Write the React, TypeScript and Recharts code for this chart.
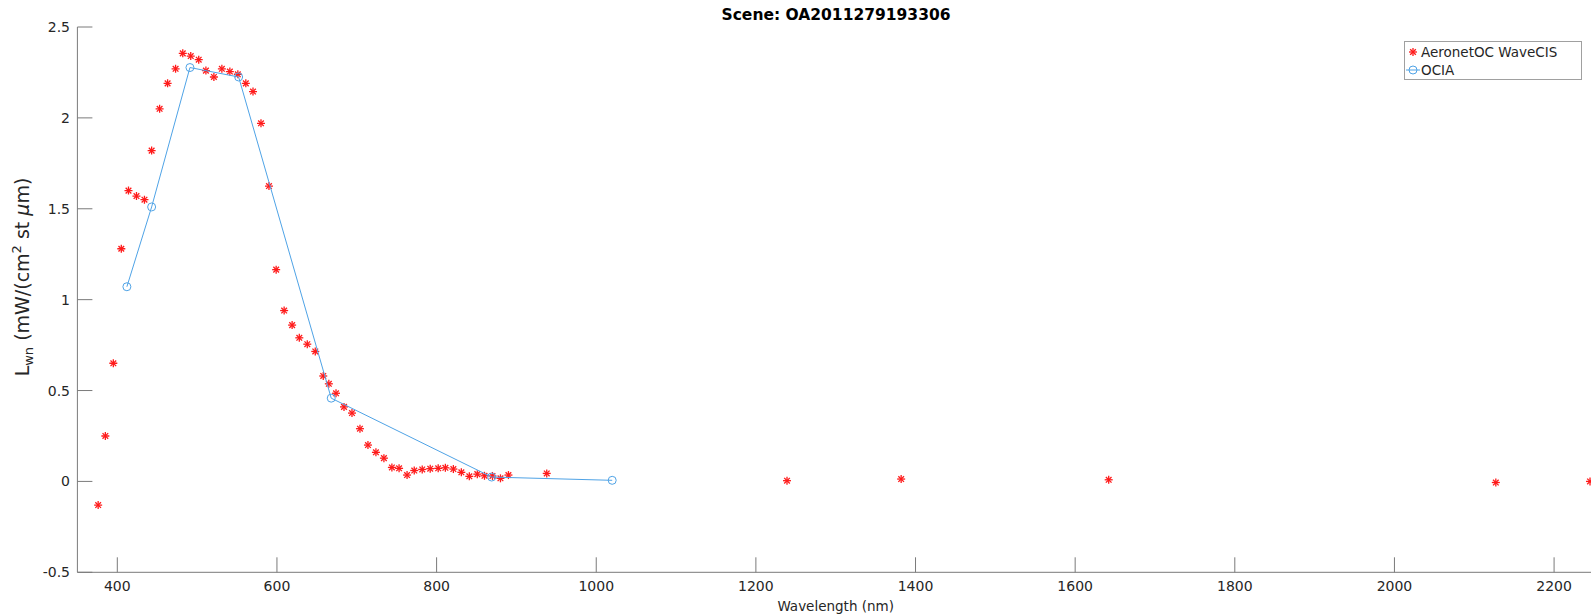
import { Scatter, ScatterChart, XAxis, YAxis } from 'recharts';

// AeronetOC WaveCIS, wavelength (nm) / Lwn
const aeronetWl = [
  376, 385, 395, 405, 414, 424, 434, 443, 453, 463, 473, 482, 492, 502, 511, 521, 531, 541, 551, 561,
  570, 580, 590, 599, 609, 619, 628, 638, 648, 658, 665, 674, 684, 694, 704, 714, 724, 734, 744, 753,
  763, 772, 782, 792, 802, 811, 821, 831, 841, 851, 860, 870, 880, 890, 938, 1239, 1382, 1642, 2127, 2245,
];
const aeronetLwn = [
  -0.13, 0.25, 0.65, 1.28, 1.6, 1.57, 1.55, 1.82, 2.05, 2.19, 2.27, 2.355, 2.34, 2.32, 2.26, 2.225, 2.27, 2.255, 2.24, 2.19,
  2.145, 1.97, 1.625, 1.165, 0.94, 0.86, 0.79, 0.755, 0.715, 0.58, 0.537, 0.485, 0.41, 0.376, 0.29, 0.2, 0.16, 0.128, 0.077, 0.072,
  0.035, 0.06, 0.066, 0.07, 0.072, 0.075, 0.068, 0.05, 0.028, 0.04, 0.031, 0.03, 0.017, 0.035, 0.044, 0.004, 0.013, 0.009, -0.006, 0.0,
];

// OCIA
const ociaWl = [412, 443, 491, 552, 668, 869, 1020];
const ociaLwn = [1.071, 1.51, 2.277, 2.225, 0.458, 0.024, 0.006];

const xTicks = [400, 600, 800, 1000, 1200, 1400, 1600, 1800, 2000, 2200];
const yTicks = [-0.5, 0, 0.5, 1, 1.5, 2, 2.5];

const RED = '#ff1a1a';
const BLUE = '#4fa3e6';
const AXIS = '#7a7a7a';
const TEXT = '#262626';

const aeronet = aeronetWl.map((x, i) => ({ x, y: aeronetLwn[i] }));
const ocia = ociaWl.map((x, i) => ({ x, y: ociaLwn[i] }));

function Star({ cx, cy }: any) {
  const r = 4;
  const d = r * 0.707;
  return (
    <g stroke={RED} strokeWidth={1.3}>
      <line x1={cx - r} y1={cy} x2={cx + r} y2={cy} />
      <line x1={cx} y1={cy - r} x2={cx} y2={cy + r} />
      <line x1={cx - d} y1={cy - d} x2={cx + d} y2={cy + d} />
      <line x1={cx - d} y1={cy + d} x2={cx + d} y2={cy - d} />
    </g>
  );
}

function Ring({ cx, cy }: any) {
  return <circle cx={cx} cy={cy} r={4} fill="none" stroke={BLUE} strokeWidth={1} />;
}

const noTick = () => <g />;

function YTitle() {
  return (
    <text transform="translate(29,277) rotate(-90)" textAnchor="middle" fontSize={19} fill={TEXT}>
      L
      <tspan dy={4} fontSize={13}>wn</tspan>
      <tspan dy={-4}> (mW/(cm</tspan>
      <tspan dy={-8} fontSize={13}>2</tspan>
      <tspan dy={8}> st </tspan>
      <tspan fontStyle="italic">μ</tspan>
      <tspan>m)</tspan>
    </text>
  );
}

export default function App() {
  return (
    <div
      style={{
        position: 'fixed',
        left: 0,
        top: 0,
        width: 1591,
        height: 616,
        overflow: 'hidden',
        background: '#fff',
        fontFamily: 'DejaVu Sans',
      }}
    >
      <ScatterChart width={1600} height={616} margin={{ top: 27, right: 6, bottom: 3.7, left: 0.4 }}>
        <XAxis
          xAxisId="b"
          dataKey="x"
          type="number"
          domain={[350, 2250]}
          ticks={xTicks}
          allowDataOverflow
          height={40}
          stroke={AXIS}
          tickSize={-15}
          tickMargin={24}
          tick={{ fill: TEXT, fontSize: 14 }}
          label={{ value: 'Wavelength (nm)', position: 'insideBottom', offset: 1, fill: TEXT, fontSize: 13.5 }}
        />
        <XAxis
          xAxisId="t"
          orientation="top"
          dataKey="x"
          type="number"
          domain={[350, 2250]}
          ticks={xTicks}
          allowDataOverflow
          height={0}
          stroke={AXIS}
          tickSize={-15}
          tick={noTick}
        />
        <YAxis
          yAxisId="l"
          dataKey="y"
          type="number"
          domain={[-0.5, 2.5]}
          ticks={yTicks}
          allowDataOverflow
          width={77}
          stroke={AXIS}
          tickSize={-15}
          tickMargin={22.4}
          tick={{ fill: TEXT, fontSize: 14 }}
          label={{ content: () => <YTitle /> }}
        />
        <YAxis
          yAxisId="r"
          orientation="right"
          dataKey="y"
          type="number"
          domain={[-0.5, 2.5]}
          ticks={yTicks}
          allowDataOverflow
          width={0}
          stroke={AXIS}
          tickSize={-15}
          tick={noTick}
        />
        <Scatter
          name="AeronetOC WaveCIS"
          data={aeronet}
          xAxisId="b"
          yAxisId="l"
          shape={(p: any) => <Star cx={p.cx} cy={p.cy} />}
          isAnimationActive={false}
        />
        <Scatter
          name="OCIA"
          data={ocia}
          xAxisId="b"
          yAxisId="l"
          line={{ stroke: BLUE, strokeWidth: 1 }}
          lineType="joint"
          shape={(p: any) => <Ring cx={p.cx} cy={p.cy} />}
          isAnimationActive={false}
        />
      </ScatterChart>

      {/* title */}
      <div
        style={{
          position: 'absolute',
          left: 636,
          top: 5,
          width: 400,
          textAlign: 'center',
          fontSize: 15.5,
          fontWeight: 'bold',
          color: '#000',
          lineHeight: '20px',
        }}
      >
        Scene: OA2011279193306
      </div>

      {/* legend box, top right */}
      <div
        style={{
          position: 'absolute',
          left: 1404,
          top: 41,
          width: 178,
          height: 39,
          border: '1px solid #a0a0a0',
          background: '#fff',
          fontSize: 13.5,
          color: TEXT,
          lineHeight: '18px',
          paddingTop: 1,
          boxSizing: 'border-box',
        }}
      >
        <div style={{ display: 'flex', alignItems: 'center' }}>
          <svg width={16} height={18}>
            <Star cx={8} cy={9} />
          </svg>
          <span>AeronetOC WaveCIS</span>
        </div>
        <div style={{ display: 'flex', alignItems: 'center' }}>
          <svg width={16} height={18}>
            <line x1={1} y1={9} x2={15} y2={9} stroke={BLUE} strokeWidth={1} />
            <Ring cx={8} cy={9} />
          </svg>
          <span>OCIA</span>
        </div>
      </div>
    </div>
  );
}
